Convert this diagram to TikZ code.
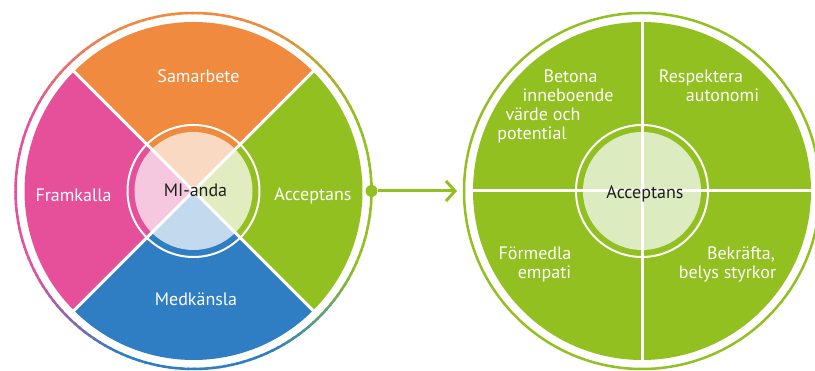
\documentclass[tikz,border=0pt]{standalone}
\usepackage{fontspec}
\setmainfont{PT Sans}
\usepackage{tikz}
\usetikzlibrary{arrows.meta}

\definecolor{accgreen}{HTML}{92C020}
\definecolor{samorange}{HTML}{EF8A3E}
\definecolor{frampink}{HTML}{E6509A}
\definecolor{medblue}{HTML}{2F7DC2}
\definecolor{accpale}{HTML}{E1EDC1}
\definecolor{sampale}{HTML}{FAD9C2}
\definecolor{frampale}{HTML}{F6C8DF}
\definecolor{medpale}{HTML}{C3DAEE}
\definecolor{corepale}{HTML}{DDEBC0}
\definecolor{coretext}{HTML}{1E1E1E}

\begin{document}
\begin{tikzpicture}[x=1pt, y=1pt]
    \def\rfill{169}
    \def\rring{178}
    \def\rcore{59}
    \def\rband{66}

    % --- DEFINE STYLES ---
    % White text on the coloured sectors
    \tikzstyle{lbl} = [anchor=base, inner sep=0pt, text=white, font=\fontsize{18}{22}\selectfont]
    % Dark text in the pale middle discs
    \tikzstyle{core_lbl} = [lbl, text=coretext]
    % Thin outer ring
    \tikzstyle{outring} = [line width=2.5pt]
    % White lines between the sectors
    \tikzstyle{divider} = [white, line width=3pt]
    % Invisible node holding a wheel
    \tikzstyle{wheel} = [circle, inner sep=0pt, outer sep=0pt, minimum size=356pt]

    \useasboundingbox (0,0) rectangle (815,371);

    \node[wheel] (mi) at (193.5,180) {};
    \node[wheel] (acc) at (642,180) {};

    % --- LEFT WHEEL ---
    % 1. Sectors, each with a pale quarter in the middle
    \foreach \a/\c/\cl in {0/accgreen/accpale, 90/samorange/sampale, 180/frampink/frampale, 270/medblue/medpale} {
        \fill[\c] (mi.center) -- ++(\a-45:\rfill) arc[start angle=\a-45, end angle=\a+45, radius=\rfill] -- cycle;
        \fill[\cl] (mi.center) -- ++(\a-45:\rcore) arc[start angle=\a-45, end angle=\a+45, radius=\rcore] -- cycle;
    }
    \draw[white, line width=2pt] (mi.center) circle[radius=\rband];
    \foreach \a in {45,135,225,315}
        \draw[divider] (mi.center) -- ++(\a:\rfill+2);

    % 2. Outer ring, blending from one sector colour to the next
    \foreach \q/\ca/\cb in {0/accgreen/samorange, 1/samorange/frampink, 2/frampink/medblue, 3/medblue/accgreen} {
        \foreach \t in {0,2,...,88} {
            \pgfmathsetmacro\s{\q*90+\t}
            \pgfmathtruncatemacro\p{max(0,min(100,(\t-25)*2.5))}
            \draw[outring, draw=\cb!\p!\ca] (mi.center) ++(\s:\rring) arc[start angle=\s, end angle=\s+2.6, radius=\rring];
        }
    }

    % 3. Labels
    \node[lbl] (sam) at (198.5,288) {Samarbete};
    \node[lbl] (fram) at (73.5,169) {Framkalla};
    \node[lbl] (accl) at (313,170) {Acceptans};
    \node[lbl] (med) at (196,65) {Medkänsla};
    \node[core_lbl] (mianda) at (195.5,174) {MI-anda};

    % --- RIGHT WHEEL ---
    \fill[accgreen] (acc.center) circle[radius=\rfill];
    \fill[corepale] (acc.center) circle[radius=\rcore];
    \draw[white, line width=2pt] (acc.center) circle[radius=\rband];
    \draw[divider] ([yshift=-172pt]acc.center) -- ([yshift=172pt]acc.center);
    \draw[divider] ([xshift=-172pt]acc.center) -- ([xshift=172pt]acc.center);
    \draw[outring, accgreen] (acc.center) circle[radius=\rring];

    % Labels, line by line
    \foreach \t/\x/\y [count=\i] in {Betona/570.5/288, inneboende/568/269, värde och/543/250, potential/532/231}
        \node[lbl] (betona\i) at (\x,\y) {\t};
    \foreach \t/\x/\y [count=\i] in {Respektera/701/288, autonomi/722.5/269}
        \node[lbl] (resp\i) at (\x,\y) {\t};
    \foreach \t/\x/\y [count=\i] in {Förmedla/535/111, empati/544.5/92}
        \node[lbl] (form\i) at (\x,\y) {\t};
    \foreach \t/\x/\y [count=\i] in {{Bekräfta,}/741/111, belys styrkor/727.5/92}
        \node[lbl] (bekr\i) at (\x,\y) {\t};
    \node[core_lbl] (accr) at (645,172) {Acceptans};

    % --- LINK ---
    \node[circle, fill=accgreen, inner sep=0pt, minimum size=12pt] (dot) at (mi.east) {};
    \draw[accgreen, line width=3pt, -{Straight Barb[length=9pt, width=20pt]}, shorten >=7pt] (dot) -- (acc.west);
\end{tikzpicture}
\end{document}
